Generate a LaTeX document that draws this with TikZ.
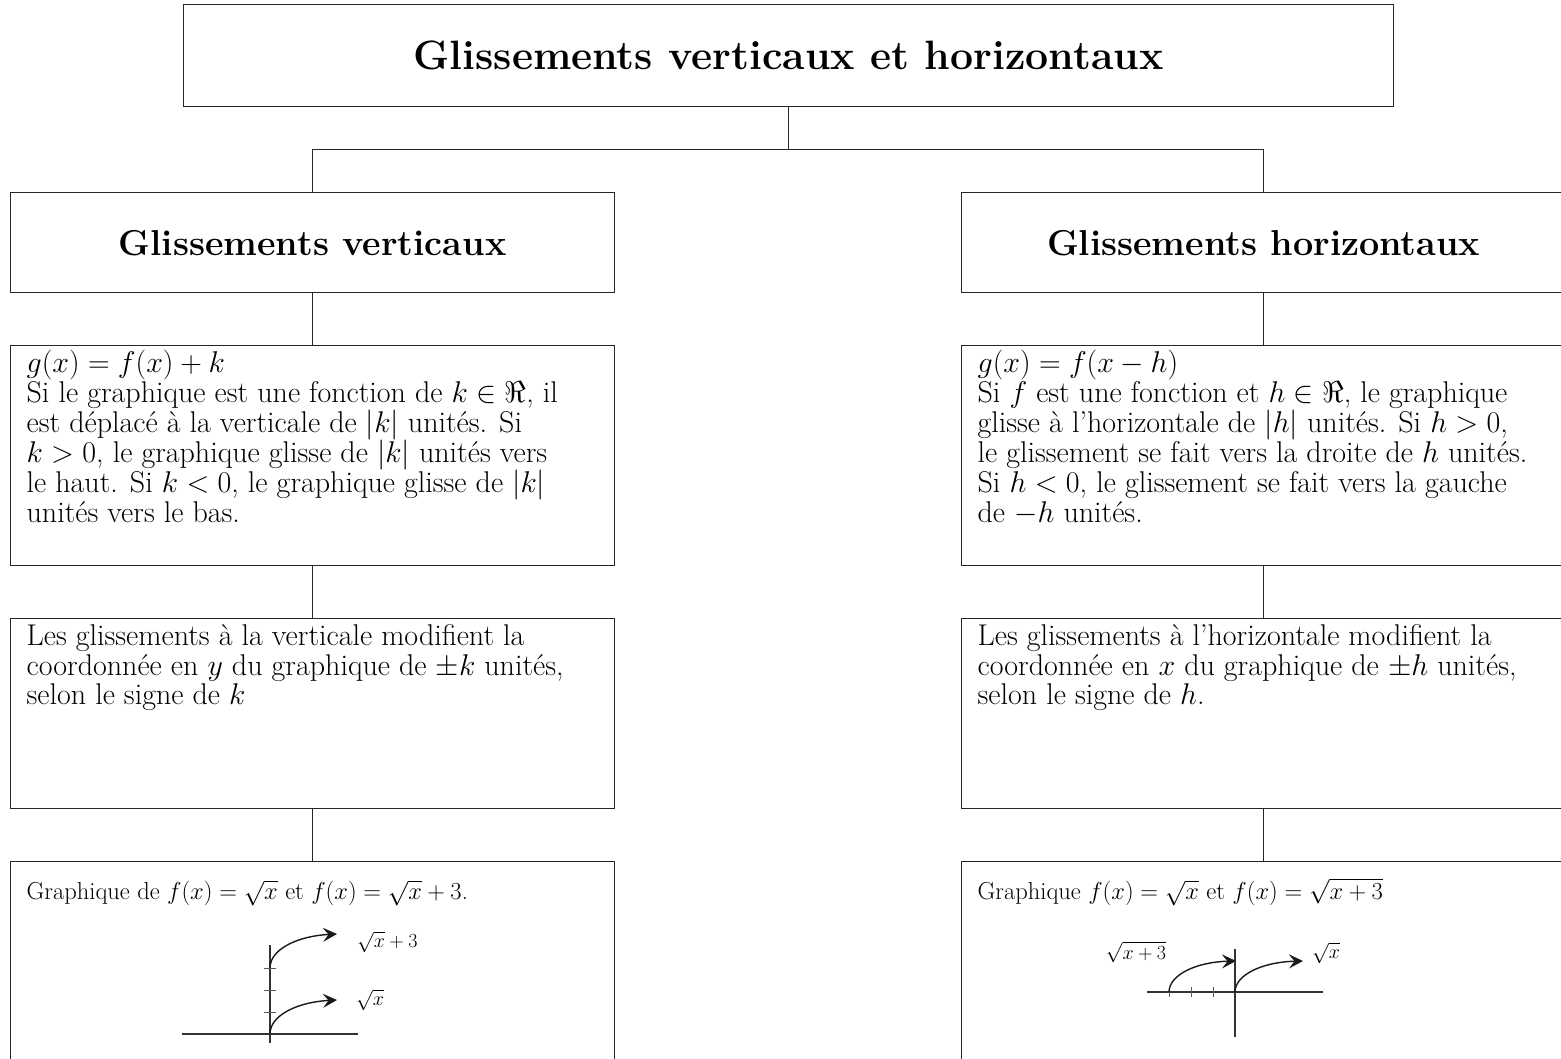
\documentclass[tikz,border=0pt]{standalone}
\usepackage{fix-cm}
\usepackage{amsmath}
\usepackage{tikz}
\usetikzlibrary{arrows.meta}

% text of a column box: height, font size, line skip, first strut, text
\newcommand{\colbody}[5]{\parbox[c][#1pt][t]{604pt}{\fontsize{#2}{#3}\selectfont
  \lineskiplimit=-20pt\leftskip=16pt\rightskip=0pt plus 1fil\rule{0pt}{#4pt}#5}}

\begin{document}
\begin{tikzpicture}[x=1pt, y=-1pt,
    boxframe/.style={draw=black!85, line width=1.3pt, inner sep=0pt, anchor=north west},
    headbox/.style={boxframe, minimum width=604pt, minimum height=100pt,
        font=\bfseries\fontsize{36}{40}\selectfont},
    link/.style={draw=black!85, line width=1pt},
    axis/.style={draw=black!80, line width=1.5pt},
    axistick/.style={draw=black!65, line width=1pt},
    curvearrow/.style={draw=black!90, line width=1.4pt,
        -{Stealth[length=14pt, width=14pt, inset=5.5pt]}},
    graphlabel/.style={font=\fontsize{20}{22}\selectfont, inner sep=0pt}]

    \clip (0,0) rectangle (1561,1058);

    % ;- Title ;-
    \node[boxframe, minimum width=1210pt, minimum height=102pt,
        font=\bfseries\fontsize{41}{45}\selectfont] (title) at (183,4)
        {Glissements verticaux et horizontaux};

    % ;- Vertical column (left) ;-
    \node[headbox] (vhead) at (10,192) {Glissements verticaux};
    \node[boxframe] (vdef) at (10,345) {\colbody{220}{30}{30}{27}{%
        $g(x) = f(x) + k$\\
        Si le graphique est une fonction de $k \in \Re$, il\\
        est déplacé à la verticale de $\lvert k\rvert$ unités. Si\\
        $k > 0$, le graphique glisse de $\lvert k\rvert$ unités vers\\
        le haut. Si $k < 0$, le graphique glisse de $\lvert k\rvert$\\
        unités vers le bas.}};
    \node[boxframe] (vnote) at (10,618) {\colbody{190}{30}{29.5}{27}{%
        Les glissements à la verticale modifient la\\
        coordonnée en $y$ du graphique de $\pm k$ unités,\\
        selon le signe de $k$}};
    \node[boxframe] (vgraph) at (10,861) {\colbody{210}{24.5}{28}{38}{%
        Graphique de $f(x) = \sqrt{x}$ et $f(x) = \sqrt{x} + 3$.}};

    % ;- Horizontal column (right) ;-
    \node[headbox] (hhead) at (961,192) {Glissements horizontaux};
    \node[boxframe] (hdef) at (961,345) {\colbody{220}{30}{30}{27}{%
        $g(x) = f(x - h)$\\
        Si $f$ est une fonction et $h \in \Re$, le graphique\\
        glisse à l'horizontale de $\lvert h\rvert$ unités. Si $h > 0$,\\
        le glissement se fait vers la droite de $h$ unités.\\
        Si $h < 0$, le glissement se fait vers la gauche\\
        de $-h$ unités.}};
    \node[boxframe] (hnote) at (961,618) {\colbody{190}{30}{29.5}{27}{%
        Les glissements à l'horizontale modifient la\\
        coordonnée en $x$ du graphique de $\pm h$ unités,\\
        selon le signe de $h$.}};
    \node[boxframe] (hgraph) at (961,861) {\colbody{210}{24.5}{28}{38}{%
        Graphique $f(x) = \sqrt{x}$ et $f(x) = \sqrt{x+3}$}};

    % connectors
    \draw[link] (title.south) -- ++(0,42) coordinate (split);
    \draw[link] (vhead.north) |- (split) -| (hhead.north);
    \draw[link] (vhead.south) -- (vdef.north);
    \draw[link] (vdef.south) -- (vnote.north);
    \draw[link] (vnote.south) -- (vgraph.north);
    \draw[link] (hhead.south) -- (hdef.north);
    \draw[link] (hdef.south) -- (hnote.north);
    \draw[link] (hnote.south) -- (hgraph.north);

    % ;- sqrt(x) shifted up ;-
    \draw[axis] (182,1034) -- (358,1034);
    \draw[axis] (270,945) -- (270,1043);
    \foreach \t in {1012,990,968}{
        \draw[axistick] (264,\t) -- (276,\t);
    }
    \draw[curvearrow] (270,1034) .. controls (270,1015) and (298,1002) .. (337,1000);
    \draw[curvearrow] (270,968) .. controls (270,949) and (298,936) .. (337,934);
    \node[graphlabel, anchor=west] (vtoplab) at (357,942) {$\sqrt{x} + 3$};
    \node[graphlabel, anchor=west] (vbotlab) at (356,1000) {$\sqrt{x}$};

    % ;- sqrt(x) shifted left ;-
    \draw[axis] (1147,992) -- (1323,992);
    \draw[axis] (1235,949) -- (1235,1037);
    \foreach \t in {1169,1191,1213}{
        \draw[axistick] (\t,987) -- (\t,997);
    }
    \draw[curvearrow] (1169,992) .. controls (1169,975) and (1196,962) .. (1236,961);
    \draw[curvearrow] (1235,992) .. controls (1235,975) and (1262,962) .. (1303,961);
    \node[graphlabel] (hleftlab) at (1136,952) {$\sqrt{x+3}$};
    \node[graphlabel, anchor=west] (hrightlab) at (1312,953) {$\sqrt{x}$};

\end{tikzpicture}
\end{document}
